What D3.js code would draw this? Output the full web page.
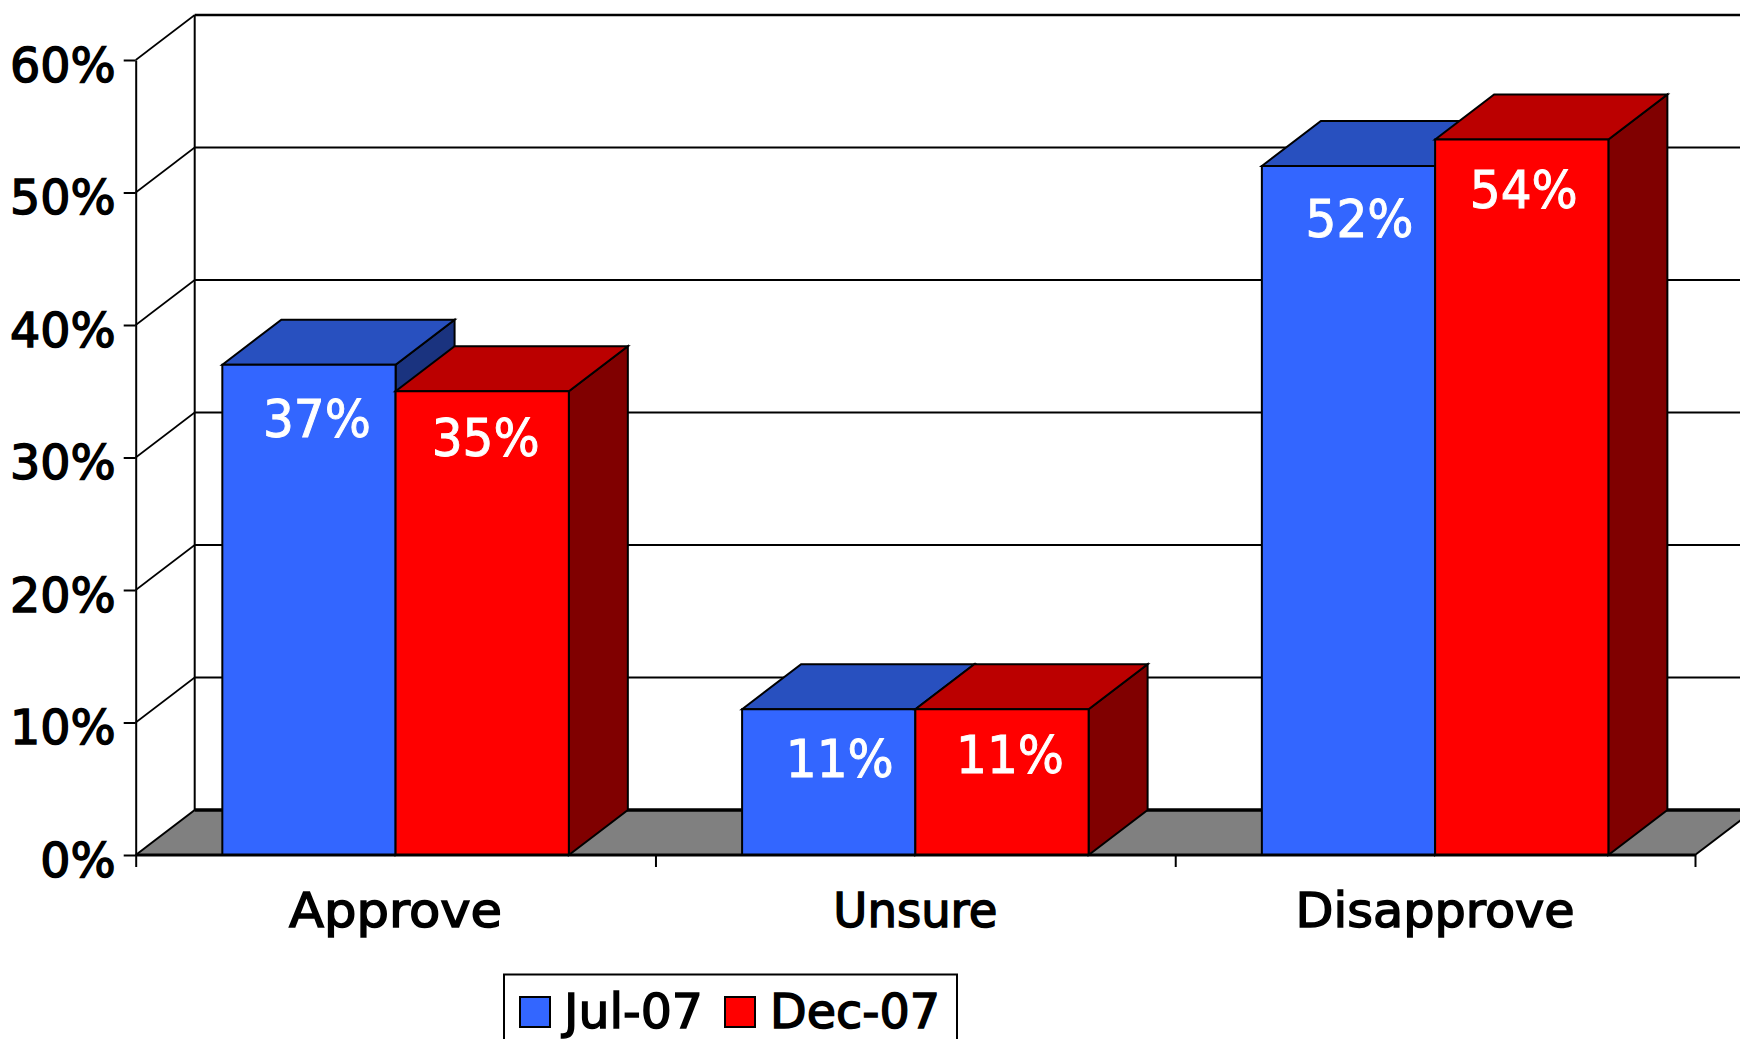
<!DOCTYPE html>
<html><head><meta charset="utf-8">
<script src="https://cdn.jsdelivr.net/npm/d3@7"></script>
<style>html,body{margin:0;padding:0;background:#fff;overflow:hidden}svg{display:block}
text{font-family:"DejaVu Sans",sans-serif}</style></head>
<body><svg id="c" width="1740" height="1039"></svg>
<script>
const categories = ["Approve", "Unsure", "Disapprove"];
const seriesNames = ["Jul-07", "Dec-07"];
const jul07 = [37, 11, 52];
const dec07 = [35, 11, 54];
const yTicks = [0, 10, 20, 30, 40, 50, 60];

// layout and style, separate from the data
const depth = {dx: 59, dy: 45};
const front = ["#3366FF", "#FF0000"], topFace = ["#2850BF", "#BB0000"], sideFace = ["#1A337F", "#800000"];
const labelDx = [[8, 3.5], [11, 8], [11, 2]];
const labelDy = [[72, 65], [68, 64], [71, 68]];
const catWidths = [213, 164, 279];

const svg = d3.select("#c");
const y = d3.scaleLinear().domain([0, 60]).range([855, 60]);
const x = d3.scaleBand().domain(categories).range([135.7, 1695]);
const inner = d3.scaleBand().domain(seriesNames).range([0, x.bandwidth()]).padding(0).paddingOuter(0.5);

const x0 = x.range()[0], x1 = x.range()[1];
const line = (g, a, b, c, d, w = 2) => g.append("line").attr("x1", a).attr("y1", b).attr("x2", c).attr("y2", d).attr("stroke", "#000").attr("stroke-width", w);

// floor
const wall = svg.append("g");
wall.append("polygon")
  .attr("points", [[x0, y(0)], [x0 + depth.dx, y(0) - depth.dy], [x1 + depth.dx, y(0) - depth.dy], [x1, y(0)]].join(" "))
  .attr("fill", "#808080");
// gridlines and side wall
yTicks.forEach(t => {
  line(wall, x0, y(t), x0 + depth.dx, y(t) - depth.dy, t === 0 ? 2 : 1.6);
  line(wall, x0 + depth.dx, y(t) - depth.dy, 1740, y(t) - depth.dy, t === 0 ? 3.5 : (t === 60 ? 2.6 : 2));
});
line(wall, x0 + depth.dx, y(60) - depth.dy, x0 + depth.dx, y(0) - depth.dy, 2);
line(wall, x1, y(0), x1 + depth.dx, y(0) - depth.dy, 2);

// y axis
const yAxis = svg.append("g").attr("transform", `translate(${x0},0)`)
  .call(d3.axisLeft(y).tickValues(yTicks).tickSize(12).tickSizeOuter(0).tickPadding(8).tickFormat(d => d + "%"));
yAxis.select(".domain").attr("stroke", "#000").attr("stroke-width", 2);
yAxis.selectAll(".tick line").attr("stroke", "#000").attr("stroke-width", 2);
yAxis.selectAll(".tick text").attr("font-size", 47.5).attr("font-family", "DejaVu Sans").attr("dy", null)
  .attr("y", 21).attr("stroke", "#000").attr("stroke-width", 1.5).attr("fill", "#000");

// bars
const series = [jul07, dec07];
categories.forEach((cat, i) => {
  seriesNames.forEach((name, s) => {
    const v = series[s][i];
    const l = x(cat) + inner(name), r = l + inner.bandwidth(), t = y(v), b = y(0);
    const g = svg.append("g").attr("stroke", "#000").attr("stroke-width", 2).attr("stroke-linejoin", "miter");
    g.append("polygon").attr("points", [[r, t], [r + depth.dx, t - depth.dy], [r + depth.dx, b - depth.dy], [r, b]].join(" ")).attr("fill", sideFace[s]);
    g.append("polygon").attr("points", [[l, t], [l + depth.dx, t - depth.dy], [r + depth.dx, t - depth.dy], [r, t]].join(" ")).attr("fill", topFace[s]);
    g.append("rect").attr("x", l).attr("y", t).attr("width", r - l).attr("height", b - t).attr("fill", front[s]);
  });
});
// data labels drawn last
categories.forEach((cat, i) => {
  seriesNames.forEach((name, s) => {
    const v = series[s][i];
    svg.append("text").text(v + "%").attr("text-anchor", "middle")
      .attr("x", x(cat) + inner(name) + inner.bandwidth() / 2 + labelDx[i][s])
      .attr("y", y(v) + labelDy[i][s])
      .attr("font-size", 51).attr("textLength", 108).attr("lengthAdjust", "spacingAndGlyphs")
      .attr("fill", "#fff").attr("stroke", "#fff").attr("stroke-width", 1);
  });
});

// x axis
line(svg, x0, y(0), x1, y(0), 3);
const xTicks = d3.scaleLinear().domain([0, 3]).range([x0, x1]);
const xTickAxis = svg.append("g").attr("transform", `translate(0,${y(0)})`)
  .call(d3.axisBottom(xTicks).tickValues([0, 1, 2, 3]).tickSize(12).tickSizeOuter(0).tickFormat(""));
xTickAxis.select(".domain").remove();
xTickAxis.selectAll(".tick line").attr("stroke", "#000").attr("stroke-width", 2);
const xAxis = svg.append("g").attr("transform", `translate(0,${y(0)})`)
  .call(d3.axisBottom(x).tickSize(0).tickPadding(0));
xAxis.select(".domain").remove();
xAxis.selectAll(".tick text").attr("dy", null).attr("y", 72).attr("font-size", 48).attr("font-family", "DejaVu Sans")
  .attr("textLength", (d, i) => catWidths[i]).attr("lengthAdjust", "spacingAndGlyphs")
  .attr("stroke", "#000").attr("stroke-width", 1.5).attr("fill", "#000");

// legend
const leg = svg.append("g");
leg.append("rect").attr("x", 504).attr("y", 974.5).attr("width", 453).attr("height", 80)
  .attr("fill", "#fff").attr("stroke", "#000").attr("stroke-width", 2);
const legX = [520, 725], legTX = [564, 770], legW = [139, 170];
seriesNames.forEach((name, s) => {
  leg.append("rect").attr("x", legX[s]).attr("y", 997).attr("width", 30).attr("height", 30)
    .attr("fill", front[s]).attr("stroke", "#000").attr("stroke-width", 2);
  leg.append("text").text(name).attr("x", legTX[s]).attr("y", 1028).attr("font-size", 48)
    .attr("textLength", legW[s]).attr("lengthAdjust", "spacingAndGlyphs")
    .attr("fill", "#000").attr("stroke", "#000").attr("stroke-width", 1.5);
});
</script></body></html>
